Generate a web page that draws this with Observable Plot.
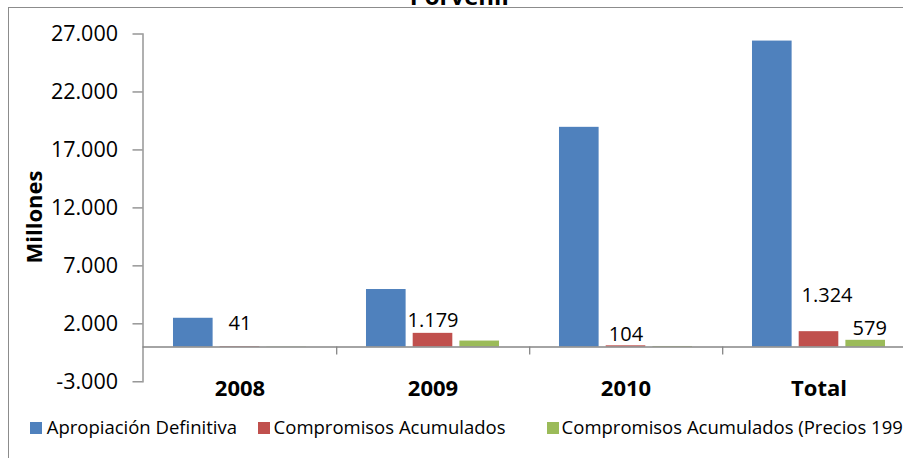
<!DOCTYPE html>
<html>
<head>
<meta charset="utf-8">
<script src="https://cdn.jsdelivr.net/npm/d3@7"></script>
<script src="https://cdn.jsdelivr.net/npm/@observablehq/plot@0.6"></script>
<style>
html, body { margin: 0; padding: 0; overflow: hidden; background: #fff; }
#wrap { position: relative; width: 903px; height: 458px; overflow: hidden; font-family: "Open Sans", sans-serif; color: #000; }
#chart { position: absolute; left: 0; top: 0; }
#frame { position: absolute; left: 8px; top: 7px; width: 2000px; height: 2000px; border-left: 1.5px solid #8c8c8c; border-top: 1.5px solid #8c8c8c; pointer-events: none; }
#title { position: absolute; left: 461px; top: -16.3px; transform: translateX(-50%); font-size: 24px; line-height: 24px; font-weight: bold; white-space: nowrap; }
#ylabel { position: absolute; left: 33.4px; top: 216.7px; transform: translate(-50%, -50%) rotate(-90deg); font-size: 22px; line-height: 22px; font-weight: bold; white-space: nowrap; }
.sw { position: absolute; top: 422px; width: 12px; height: 12px; }
.lt { position: absolute; top: 418px; font-size: 18.5px; line-height: 18px; white-space: nowrap; }
</style>
</head>
<body>
<div id="wrap">
  <div id="chart"></div>
  <div id="frame"></div>
  <div id="title">Porvenir</div>
  <div id="ylabel">Millones</div>
  <div id="legend"></div>
</div>
<script>
// ---- data ----
const categories = ["2008", "2009", "2010", "Total"];
const seriesNames = ["Apropiación Definitiva", "Compromisos Acumulados", "Compromisos Acumulados (Precios 1998)"];
const apropiacion = [2480, 4960, 18950, 26390];
const compromisos = [41, 1179, 104, 1324];
const compromisos1998 = [18, 515, 46, 579];
const yTicks = [-3000, 2000, 7000, 12000, 17000, 22000, 27000];

// ---- style ----
const colors = ["#4F81BD", "#C0504D", "#9BBB59"];
const axisGray = "#868686";
const locale = d3.formatLocale({decimal: ",", thousands: ".", grouping: [3], currency: ["$", ""], minus: "-"});
const fmt = locale.format(",.0f");

const width = 903, height = 410;
const marginTop = 33.5, marginBottom = 28.7, marginLeft = 142.5;
const xRange = [142.5, 916];
const yDomain = [-3000, 27000];
const bw = (xRange[1] - xRange[0]) / categories.length;
const barW = 40, gap = 6.7;
const groupW = 3 * barW + 2 * gap;
const off0 = (bw - groupW) / 2;
const insets = seriesNames.map((s, i) => {
  const l = off0 + i * (barW + gap);
  return {insetLeft: l, insetRight: bw - l - barW};
});
const shift = i => off0 + i * (barW + gap) + barW / 2 - bw / 2;
const pxPerUnit = (height - marginBottom - marginTop) / (yDomain[1] - yDomain[0]);

const seriesValues = [apropiacion, compromisos, compromisos1998];
const rows = vals => categories.map((c, i) => ({category: c, value: vals[i]}));

// label nudges (dx, dy) as placed in the original chart
const redNudge = [[0, -23], [0, -13], [0, -11.3], [8, -36]];
const greenNudge = {"Total": [4, -12]};

const marks = [];
seriesValues.forEach((vals, i) => {
  marks.push(Plot.barY(rows(vals), {x: "category", y: "value", fill: colors[i], ...insets[i]}));
});
marks.push(Plot.ruleY([0], {stroke: axisGray, strokeWidth: 1.3}));
marks.push(Plot.ruleX(categories, {x: d => d, dx: bw / 2, y1: 0, y2: -8 / pxPerUnit, stroke: axisGray, strokeWidth: 1.3}));
marks.push(Plot.frame({anchor: "left", stroke: axisGray, strokeWidth: 1.3}));
marks.push(Plot.axisY(yTicks, {label: null, tickSize: 10, tickPadding: 15, tickFormat: fmt, fontSize: 21.5, stroke: axisGray, fill: "#000", strokeWidth: 1.3}));
marks.push(Plot.text(categories, {x: d => d, frameAnchor: "bottom", dy: 6.7, lineAnchor: "middle", fontSize: 22, fontWeight: "bold", fill: "#000"}));
rows(compromisos).forEach((r, i) => {
  marks.push(Plot.text([r], {x: "category", y: "value", text: d => fmt(d.value), dx: shift(1) + redNudge[i][0], dy: redNudge[i][1], fontSize: 20, fill: "#000", lineAnchor: "middle"}));
});
rows(compromisos1998).filter(r => greenNudge[r.category]).forEach(r => {
  const n = greenNudge[r.category];
  marks.push(Plot.text([r], {x: "category", y: "value", text: d => fmt(d.value), dx: shift(2) + n[0], dy: n[1], fontSize: 20, fill: "#000", lineAnchor: "middle"}));
});

const chart = Plot.plot({
  width, height,
  marginTop, marginBottom, marginLeft, marginRight: 0,
  style: {fontFamily: "Open Sans", background: "transparent", overflow: "hidden"},
  x: {domain: categories, range: xRange, padding: 0, axis: null},
  y: {domain: yDomain, axis: null},
  marks
});
document.getElementById("chart").appendChild(chart);

// legend
const legendPos = [[30, 46.7], [258, 273.6], [547, 561.6]];
const legend = document.getElementById("legend");
seriesNames.forEach((name, i) => {
  const sw = document.createElement("div");
  sw.className = "sw";
  sw.style.left = legendPos[i][0] + "px";
  sw.style.background = colors[i];
  legend.appendChild(sw);
  const t = document.createElement("div");
  t.className = "lt";
  t.style.left = legendPos[i][1] + "px";
  t.textContent = name;
  legend.appendChild(t);
});
</script>
</body>
</html>
